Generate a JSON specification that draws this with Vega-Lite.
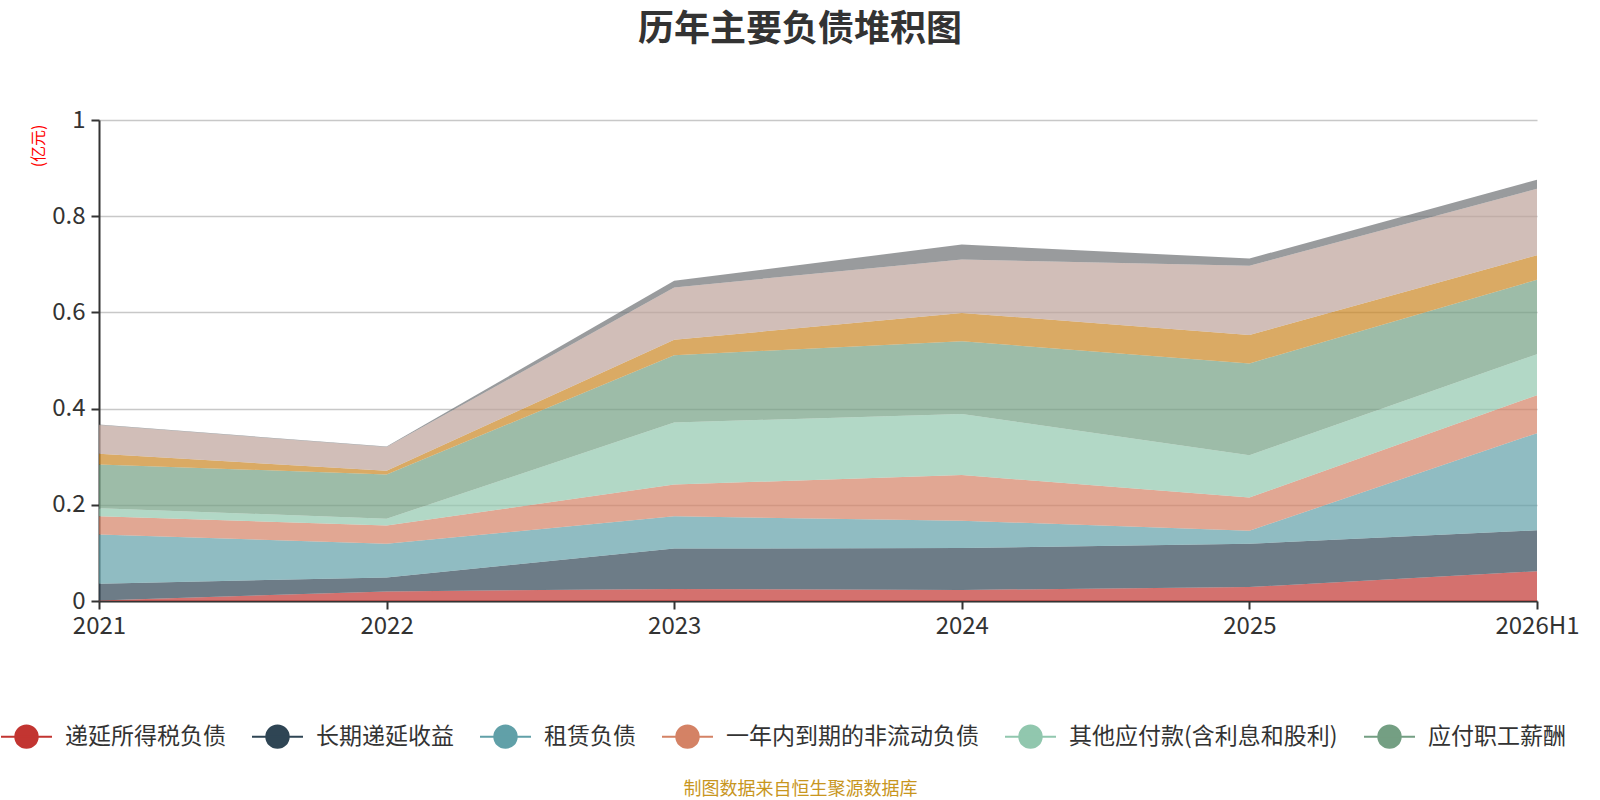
{
  "$schema": "https://vega.github.io/schema/vega-lite/v6.json",
  "autosize": {"type": "none"},
  "width": 1438,
  "height": 481,
  "padding": {"left": 99, "top": 120, "right": 63, "bottom": 199},
  "background": "white",
  "config": {"view": {"stroke": null}, "font": "Noto Sans CJK SC"},
  "title": {
    "text": "历年主要负债堆积图",
    "fontSize": 36,
    "fontWeight": "bold",
    "color": "#333333",
    "anchor": "middle",
    "dx": -18,
    "offset": 59
  },
  "data": {
    "values": [
      {"year": "2021", "item": "递延所得税负债", "value": 0.001},
      {"year": "2021", "item": "长期递延收益", "value": 0.035},
      {"year": "2021", "item": "租赁负债", "value": 0.102},
      {"year": "2021", "item": "一年内到期的非流动负债", "value": 0.038},
      {"year": "2021", "item": "其他应付款(含利息和股利)", "value": 0.017},
      {"year": "2021", "item": "应付职工薪酬", "value": 0.091},
      {"year": "2021", "item": "应交税费", "value": 0.022},
      {"year": "2021", "item": "应付账款", "value": 0.060},
      {"year": "2021", "item": "合同负债", "value": 0.001},
      {"year": "2022", "item": "递延所得税负债", "value": 0.020},
      {"year": "2022", "item": "长期递延收益", "value": 0.029},
      {"year": "2022", "item": "租赁负债", "value": 0.070},
      {"year": "2022", "item": "一年内到期的非流动负债", "value": 0.038},
      {"year": "2022", "item": "其他应付款(含利息和股利)", "value": 0.014},
      {"year": "2022", "item": "应付职工薪酬", "value": 0.092},
      {"year": "2022", "item": "应交税费", "value": 0.008},
      {"year": "2022", "item": "应付账款", "value": 0.049},
      {"year": "2022", "item": "合同负债", "value": 0.001},
      {"year": "2023", "item": "递延所得税负债", "value": 0.025},
      {"year": "2023", "item": "长期递延收益", "value": 0.084},
      {"year": "2023", "item": "租赁负债", "value": 0.067},
      {"year": "2023", "item": "一年内到期的非流动负债", "value": 0.066},
      {"year": "2023", "item": "其他应付款(含利息和股利)", "value": 0.129},
      {"year": "2023", "item": "应付职工薪酬", "value": 0.140},
      {"year": "2023", "item": "应交税费", "value": 0.032},
      {"year": "2023", "item": "应付账款", "value": 0.109},
      {"year": "2023", "item": "合同负债", "value": 0.014},
      {"year": "2024", "item": "递延所得税负债", "value": 0.023},
      {"year": "2024", "item": "长期递延收益", "value": 0.087},
      {"year": "2024", "item": "租赁负债", "value": 0.057},
      {"year": "2024", "item": "一年内到期的非流动负债", "value": 0.095},
      {"year": "2024", "item": "其他应付款(含利息和股利)", "value": 0.127},
      {"year": "2024", "item": "应付职工薪酬", "value": 0.151},
      {"year": "2024", "item": "应交税费", "value": 0.059},
      {"year": "2024", "item": "应付账款", "value": 0.111},
      {"year": "2024", "item": "合同负债", "value": 0.031},
      {"year": "2025", "item": "递延所得税负债", "value": 0.029},
      {"year": "2025", "item": "长期递延收益", "value": 0.090},
      {"year": "2025", "item": "租赁负债", "value": 0.027},
      {"year": "2025", "item": "一年内到期的非流动负债", "value": 0.069},
      {"year": "2025", "item": "其他应付款(含利息和股利)", "value": 0.088},
      {"year": "2025", "item": "应付职工薪酬", "value": 0.191},
      {"year": "2025", "item": "应交税费", "value": 0.059},
      {"year": "2025", "item": "应付账款", "value": 0.144},
      {"year": "2025", "item": "合同负债", "value": 0.015},
      {"year": "2026H1", "item": "递延所得税负债", "value": 0.062},
      {"year": "2026H1", "item": "长期递延收益", "value": 0.085},
      {"year": "2026H1", "item": "租赁负债", "value": 0.202},
      {"year": "2026H1", "item": "一年内到期的非流动负债", "value": 0.079},
      {"year": "2026H1", "item": "其他应付款(含利息和股利)", "value": 0.085},
      {"year": "2026H1", "item": "应付职工薪酬", "value": 0.155},
      {"year": "2026H1", "item": "应交税费", "value": 0.051},
      {"year": "2026H1", "item": "应付账款", "value": 0.138},
      {"year": "2026H1", "item": "合同负债", "value": 0.019}
    ]
  },
  "transform": [
    {"calculate": "indexof(['递延所得税负债', '长期递延收益', '租赁负债', '一年内到期的非流动负债', '其他应付款(含利息和股利)', '应付职工薪酬', '应交税费', '应付账款', '合同负债'], datum.item)", "as": "k"}
  ],
  "mark": {"type": "area", "opacity": 0.7, "interpolate": "linear"},
  "encoding": {
    "x": {
      "field": "year",
      "type": "ordinal",
      "scale": {"padding": 0},
      "axis": {
        "title": "制图数据来自恒生聚源数据库",
        "titleColor": "#c8961e",
        "titleFontSize": 18,
        "titleFontWeight": "normal",
        "titleX": 701,
        "titleY": 188,
        "titleBaseline": "middle",
        "labelAngle": 0,
        "labelFontSize": 24,
        "labelColor": "#333333",
        "labelPadding": 5,
        "domainColor": "#333333",
        "domainWidth": 2,
        "tickColor": "#333333",
        "tickWidth": 2,
        "tickSize": 8,
        "grid": false
      }
    },
    "y": {
      "field": "value",
      "type": "quantitative",
      "stack": "zero",
      "scale": {"domain": [0, 1], "nice": false},
      "axis": {
        "values": [0, 0.2, 0.4, 0.6, 0.8, 1],
        "format": "~g",
        "title": "(亿元)",
        "titleColor": "red",
        "titleFontSize": 16,
        "titleFontWeight": "normal",
        "titleAngle": -90,
        "titleAlign": "right",
        "titleBaseline": "middle",
        "titleX": -61,
        "titleY": 4,
        "labelFontSize": 24,
        "labelColor": "#333333",
        "labelPadding": 6,
        "domainColor": "#333333",
        "domainWidth": 2,
        "tickColor": "#333333",
        "tickWidth": 2,
        "tickSize": 8,
        "gridColor": "#c8c8c8",
        "gridWidth": 1.5
      }
    },
    "order": {"field": "k", "type": "quantitative"},
    "color": {
      "field": "item",
      "type": "nominal",
      "scale": {
        "domain": ["递延所得税负债", "长期递延收益", "租赁负债", "一年内到期的非流动负债", "其他应付款(含利息和股利)", "应付职工薪酬", "应交税费", "应付账款", "合同负债"],
        "range": ["#c23531", "#2f4554", "#61a0a8", "#d48265", "#91c7ae", "#749f83", "#ca8622", "#bda29a", "#6e7074"]
      },
      "legend": {
        "orient": "none",
        "direction": "horizontal",
        "legendX": -99,
        "legendY": 590,
        "title": null,
        "values": ["递延所得税负债", "长期递延收益", "租赁负债", "一年内到期的非流动负债", "其他应付款(含利息和股利)", "应付职工薪酬"],
        "labelFontSize": 23,
        "labelColor": "#333333",
        "labelLimit": 400,
        "labelOffset": 12,
        "columnPadding": 22,
        "symbolType": "M-1,0L1,0M0.44,0A0.44,0.44,0,1,1,-0.44,0A0.44,0.44,0,1,1,0.44,0Z",
        "symbolSize": 2600,
        "symbolStrokeWidth": 2,
        "symbolOpacity": 1,
        "encode": {
          "symbols": {
            "update": {
              "stroke": {"scale": "color", "field": "value"},
              "strokeWidth": {"value": 2},
              "opacity": {"value": 1},
              "fillOpacity": {"value": 1}
            }
          }
        }
      }
    }
  }
}
